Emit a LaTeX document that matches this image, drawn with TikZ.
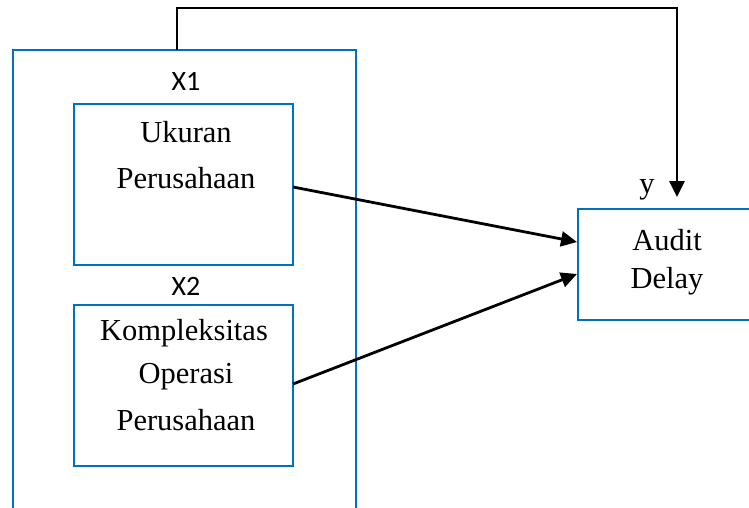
\documentclass[tikz,border=0pt]{standalone}
\usepackage{fontspec}
\setmainfont{Liberation Serif}
\newfontfamily\lblfont{Carlito}
\usetikzlibrary{arrows.meta}
\definecolor{boxblue}{HTML}{0070C0}
\begin{document}
\begin{tikzpicture}[x=1pt,y=-1pt,
  bluebox/.style={draw=boxblue,line width=2.4pt},
  txt/.style={inner sep=0pt,font=\fontsize{30.5}{34}\selectfont},
  lbl/.style={inner sep=0pt,font=\lblfont\fontsize{28}{32}\selectfont},
  conn/.style={line width=2.8pt,-{Triangle[length=16pt,width=15pt]}}]
\useasboundingbox (0,0) rectangle (749,507);
\fill[white] (0,0) rectangle (749,507);
% outer box
\draw[bluebox] (13,50) rectangle (356,530);
\coordinate (outtop) at (177,50);
% inner boxes
\node[bluebox,minimum width=219pt,minimum height=161pt,inner sep=0pt] (b1) at (183.5,184.5) {};
\node[bluebox,minimum width=219pt,minimum height=161pt,inner sep=0pt] (b2) at (183.5,385.5) {};
\node[bluebox,minimum width=190pt,minimum height=111pt,inner sep=0pt,anchor=north west] (b3) at (577,208) {};
% labels
\node[lbl] (x1) at (186,81) {X1};
\node[lbl] (x2) at (186,286) {X2};
\node[txt] (yl) at (647,190) {y};
% texts
\node[txt] (t1a) at (186,132) {Ukuran};
\node[txt] (t1b) at (186,178) {Perusahaan};
\node[txt] (t2a) at (184,333) {Kompleksitas};
\node[txt] (t2b) at (186,377) {Operasi};
\node[txt] (t2c) at (186,420) {Perusahaan};
\node[txt] (t3a) at (667,240) {Audit};
\node[txt] (t3b) at (667,281) {Delay};
% connectors
\coordinate (a1s) at (293,187);
\coordinate (a1e) at (577,242);
\coordinate (a2s) at (293,384);
\coordinate (a2e) at (577,274);
\coordinate (topend) at (677,197);
\draw[conn] (a1s) -- (a1e);
\draw[conn] (a2s) -- (a2e);
\draw[conn] (outtop) -- (177,8) -- (677,8) -- (topend);
\end{tikzpicture}
\end{document}
